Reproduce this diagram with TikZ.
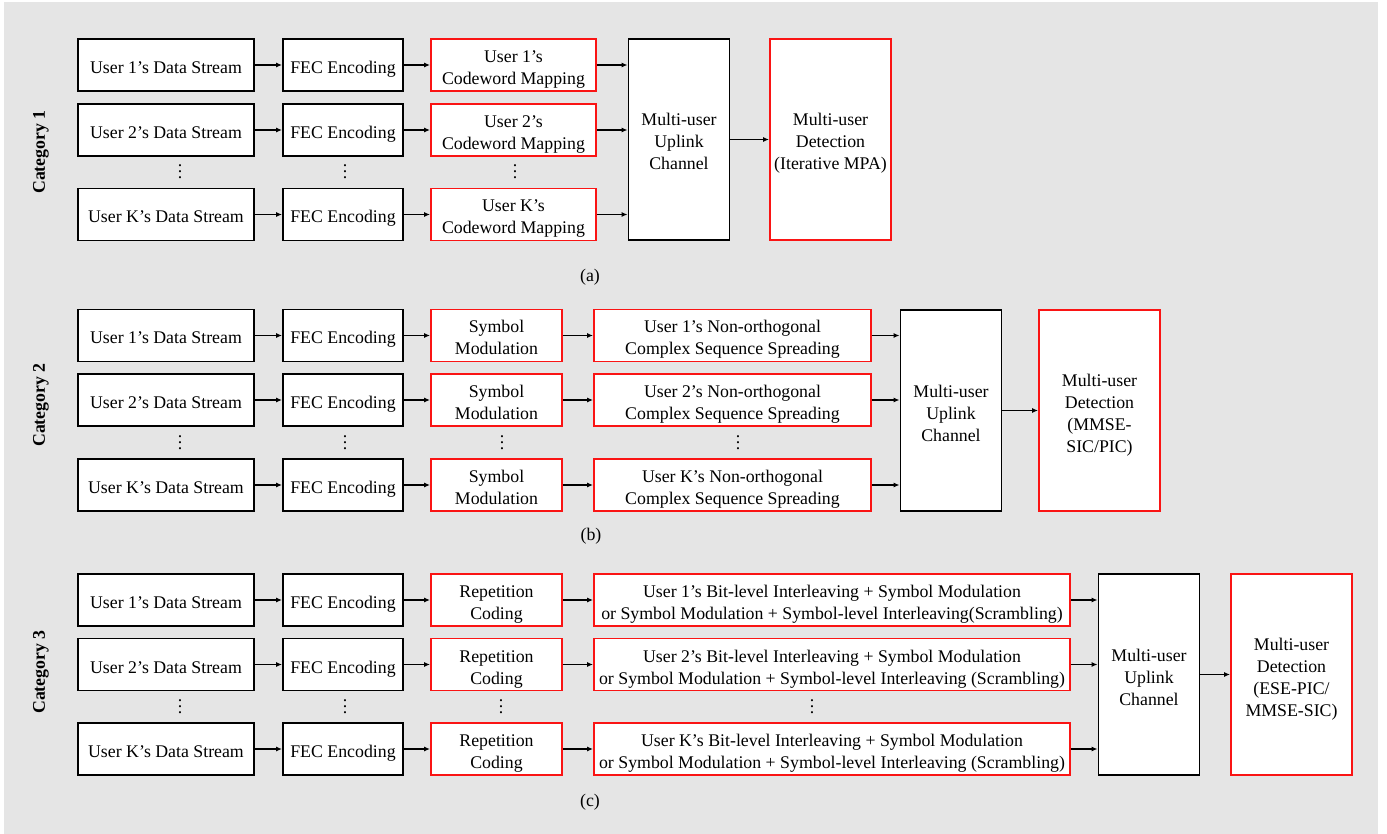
\documentclass[tikz,border=0pt]{standalone}
\usepackage{fontspec}
\setmainfont{Liberation Serif}
\usetikzlibrary{arrows.meta}
\definecolor{bg}{RGB}{229,229,229}
\definecolor{rd}{RGB}{250,20,20}
\tikzset{blk/.style={draw,line width=1.9pt,fill=white,align=center,inner sep=1pt,font=\fontsize{17.8}{22}\selectfont,
    text height=22pt,text depth=5pt},
  rblk/.style={blk,draw=rd},
  two/.style={text height=44pt},
  three/.style={text height=66pt},
  four/.style={text height=88pt},
  nil/.style={inner sep=0pt,font=\fontsize{17.8}{22}\selectfont},
  arr/.style={draw,line width=1.6pt,-{Latex[length=6pt,width=5pt]}},
  datbox/.style={blk,minimum width=176,minimum height=52},
  fecbox/.style={blk,minimum width=120,minimum height=52},
  mapbox/.style={rblk,two,minimum width=165,minimum height=52},
  symbox/.style={rblk,two,minimum width=131,minimum height=52},
  sprbox/.style={rblk,two,minimum width=277,minimum height=52},
  ilvbox/.style={rblk,two,minimum width=476,minimum height=52},
  chbox/.style={blk,three,minimum width=101,minimum height=201},
  detbox/.style={rblk,minimum width=121,minimum height=201},
  cat/.style={nil,font=\fontsize{17.8}{22}\selectfont\bfseries,rotate=90}}
\newcommand{\rowdots}{\vbox{\baselineskip6pt\lineskiplimit0pt\hbox{.}\hbox{.}\hbox{.}}}
\begin{document}
\begin{tikzpicture}[x=1pt,y=-1pt]
\fill[white] (0,0) rectangle (1387,834);
\fill[bg] (4,2) rectangle (1378,834);
\useasboundingbox (0,0) rectangle (1387,834);

\node[cat] (cat1) at (41,152) {Category 1};
\node[datbox] (da1) at (166,65) {User 1’s Data Stream};
\node[datbox] (da2) at (166,130) {User 2’s Data Stream};
\node[datbox] (dak) at (166,214.5) {User K’s Data Stream};
\node[fecbox] (fa1) at (343,65) {FEC Encoding};
\node[fecbox] (fa2) at (343,130) {FEC Encoding};
\node[fecbox] (fak) at (343,214.5) {FEC Encoding};
\node[mapbox] (ma1) at (513.5,65) {User 1’s\\Codeword Mapping};
\node[mapbox] (ma2) at (513.5,130) {User 2’s\\Codeword Mapping};
\node[mapbox] (mak) at (513.5,214.5) {User K’s\\Codeword Mapping};
\node[chbox] (cha) at (679,139.5) {Multi-user\\Uplink\\Channel};
\node[detbox,three] (dea) at (830.5,139.5) {Multi-user\\Detection\\(Iterative MPA)};
\node[nil] (va1) at (180,172) {\rowdots};
\node[nil] (va2) at (345,172) {\rowdots};
\node[nil] (va3) at (515,172) {\rowdots};
\node[nil] (capa) at (590,277) {(a)};
\path (da1) edge[arr] (fa1) (fa1) edge[arr] (ma1) (ma1.east) edge[arr] (ma1 -| cha.west)
  (da2) edge[arr] (fa2) (fa2) edge[arr] (ma2) (ma2.east) edge[arr] (ma2 -| cha.west)
  (dak) edge[arr] (fak) (fak) edge[arr] (mak) (mak.east) edge[arr] (mak -| cha.west)
  (cha) edge[arr] (dea);

\node[cat] (cat2) at (41,405) {Category 2};
\node[datbox] (db1) at (166,335.5) {User 1’s Data Stream};
\node[datbox] (db2) at (166,400) {User 2’s Data Stream};
\node[datbox] (dbk) at (166,485) {User K’s Data Stream};
\node[fecbox] (fb1) at (343,335.5) {FEC Encoding};
\node[fecbox] (fb2) at (343,400) {FEC Encoding};
\node[fecbox] (fbk) at (343,485) {FEC Encoding};
\node[symbox] (sb1) at (496.5,335.5) {Symbol\\Modulation};
\node[symbox] (sb2) at (496.5,400) {Symbol\\Modulation};
\node[symbox] (sbk) at (496.5,485) {Symbol\\Modulation};
\node[sprbox] (pb1) at (732.5,335.5) {User 1’s Non-orthogonal\\Complex Sequence Spreading};
\node[sprbox] (pb2) at (732.5,400) {User 2’s Non-orthogonal\\Complex Sequence Spreading};
\node[sprbox] (pbk) at (732.5,485) {User K’s Non-orthogonal\\Complex Sequence Spreading};
\node[chbox] (chb) at (951,410.5) {Multi-user\\Uplink\\Channel};
\node[detbox,four] (deb) at (1099.5,410.5) {Multi-user\\Detection\\(MMSE-\\SIC/PIC)};
\node[nil] (vb1) at (180,443) {\rowdots};
\node[nil] (vb2) at (345,443) {\rowdots};
\node[nil] (vb3) at (502,443) {\rowdots};
\node[nil] (vb4) at (738,443) {\rowdots};
\node[nil] (capb) at (591,536) {(b)};
\path (db1) edge[arr] (fb1) (fb1) edge[arr] (sb1) (sb1) edge[arr] (pb1) (pb1.east) edge[arr] (pb1 -| chb.west)
  (db2) edge[arr] (fb2) (fb2) edge[arr] (sb2) (sb2) edge[arr] (pb2) (pb2.east) edge[arr] (pb2 -| chb.west)
  (dbk) edge[arr] (fbk) (fbk) edge[arr] (sbk) (sbk) edge[arr] (pbk) (pbk.east) edge[arr] (pbk -| chb.west)
  (chb) edge[arr] (deb);

\node[cat] (cat3) at (41,672) {Category 3};
\node[datbox] (dc1) at (166,600) {User 1’s Data Stream};
\node[datbox] (dc2) at (166,664.5) {User 2’s Data Stream};
\node[datbox] (dck) at (166,749) {User K’s Data Stream};
\node[fecbox] (fc1) at (343,600) {FEC Encoding};
\node[fecbox] (fc2) at (343,664.5) {FEC Encoding};
\node[fecbox] (fck) at (343,749) {FEC Encoding};
\node[symbox] (rc1) at (496.5,600) {Repetition\\Coding};
\node[symbox] (rc2) at (496.5,664.5) {Repetition\\Coding};
\node[symbox] (rck) at (496.5,749) {Repetition\\Coding};
\node[ilvbox] (ic1) at (832,600) {User 1’s Bit-level Interleaving + Symbol Modulation\\or Symbol Modulation + Symbol-level Interleaving(Scrambling)};
\node[ilvbox] (ic2) at (832,664.5) {User 2’s Bit-level Interleaving + Symbol Modulation\\or Symbol Modulation + Symbol-level Interleaving (Scrambling)};
\node[ilvbox] (ick) at (832,749) {User K’s Bit-level Interleaving + Symbol Modulation\\or Symbol Modulation + Symbol-level Interleaving (Scrambling)};
\node[chbox] (chc) at (1149,674.5) {Multi-user\\Uplink\\Channel};
\node[detbox,four] (dec) at (1291.5,674.5) {Multi-user\\Detection\\(ESE-PIC/\\MMSE-SIC)};
\node[nil] (vc1) at (180,707) {\rowdots};
\node[nil] (vc2) at (345,707) {\rowdots};
\node[nil] (vc3) at (501,707) {\rowdots};
\node[nil] (vc4) at (812,707) {\rowdots};
\node[nil] (capc) at (590,802) {(c)};
\path (dc1) edge[arr] (fc1) (fc1) edge[arr] (rc1) (rc1) edge[arr] (ic1) (ic1.east) edge[arr] (ic1 -| chc.west)
  (dc2) edge[arr] (fc2) (fc2) edge[arr] (rc2) (rc2) edge[arr] (ic2) (ic2.east) edge[arr] (ic2 -| chc.west)
  (dck) edge[arr] (fck) (fck) edge[arr] (rck) (rck) edge[arr] (ick) (ick.east) edge[arr] (ick -| chc.west)
  (chc) edge[arr] (dec);
\end{tikzpicture}
\end{document}
